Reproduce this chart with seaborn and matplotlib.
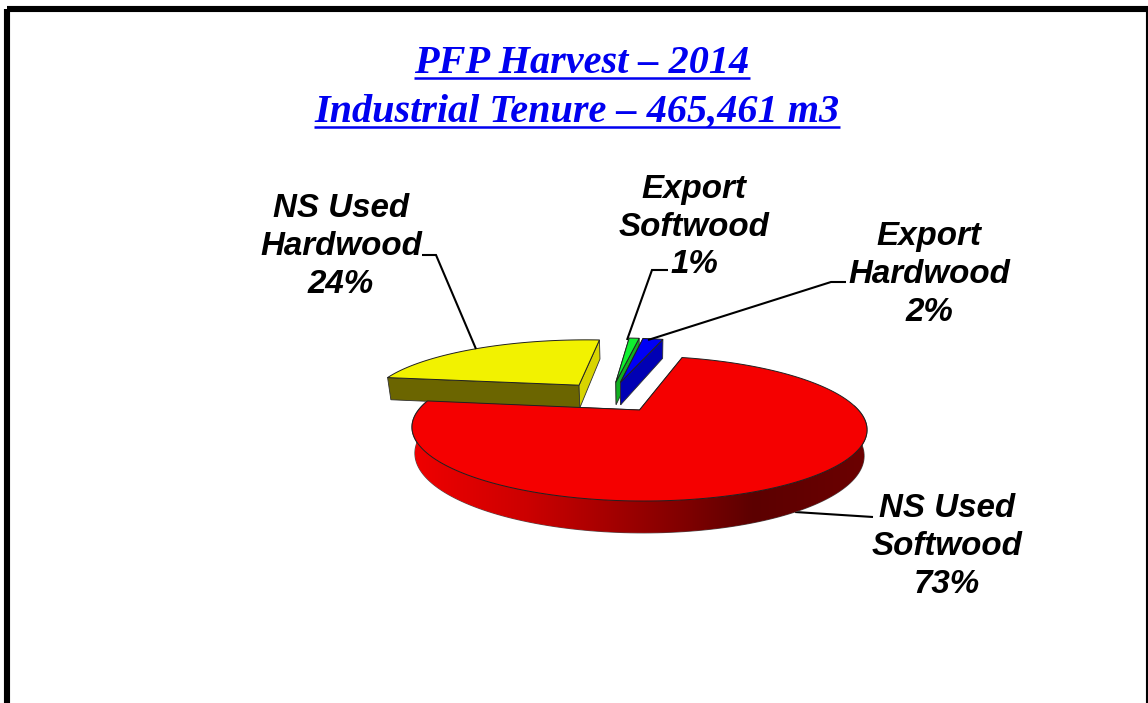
import numpy as np
import matplotlib
matplotlib.use("Agg")
import matplotlib.pyplot as plt
from matplotlib.patches import Polygon, Rectangle
import seaborn as sns

# chart data
categories = ["NS Used\nSoftwood", "NS Used\nHardwood", "Export\nSoftwood", "Export\nHardwood"]
shares = [73, 24, 1, 2]
title_lines = ["PFP Harvest \u2013 2014", "Industrial Tenure \u2013 465,461 m3"]

# styles, one entry per slice
top_colors = ["#f50000", "#f2f200", "#10f030", "#0000f5"]
low_side_colors = ["#a00000", "#d8d400", "#10b020", "#0000b4"]
high_side_colors = ["#a00000", "#6b6500", "#10b020", "#000090"]
wall_stops = ["#f00000", "#cc0000", "#960000", "#5c0000", "#6c0000"]
label_pos = [(947, 546.5), (341, 246.5), (694, 227), (929, 274.5)]
leaders = [[(873, 517), (795, 512)],
           [(422, 255), (436, 255), (476, 349)],
           [(668, 270), (652, 270), (627, 340)],
           [(846, 282), (831, 282), (648, 340)]]

# projection of the tilted pie, pixels
X0, Y0 = 639.5, 410
C, K, P, D = 220, 67.8, 0.255, 24.6

sns.set_theme(style="white")
plt.rcParams["font.family"] = ["Liberation Sans", "DejaVu Sans"]

fig = plt.figure(figsize=(11.48, 7.03), dpi=100)
ax = fig.add_axes([0, 0, 1, 1])

wedges, _ = ax.pie(shares, startangle=76, counterclock=False, explode=[0.25] * 4, radius=1)
origin = np.array(wedges[0].center)
slices = [(np.array(w.center), w.theta1, w.theta2) for w in wedges]
for w in wedges:
    w.remove()


def project(u, v, z=0):
    u = u - origin[0]
    v = v - origin[1]
    w = 1 + P * v
    s = 1 - 0.013 * z
    x = X0 + s * C * u / w
    # slight clockwise lean of the whole pie
    y = Y0 - s * K * v / w + z * D / w + 0.006 * (x - X0)
    return np.column_stack([x, y])


def arc(center, t1, t2, n=200):
    t = np.radians(np.linspace(t1, t2, n))
    return center[0] + np.cos(t), center[1] + np.sin(t)


def face(center, theta, color):
    # flat cut side of a slice
    ends = np.array([center, center + [np.cos(np.radians(theta)), np.sin(np.radians(theta))]])
    pts = np.vstack([project(ends[:, 0], ends[:, 1]), project(ends[:, 0], ends[:, 1], 1)[::-1]])
    ax.add_patch(Polygon(pts, closed=True, fc=color, ec="#303030", lw=0.6))


wall_cmap = sns.blend_palette(wall_stops, as_cmap=True)

for i, (center, t1, t2) in enumerate(slices):
    face(center, t2, high_side_colors[i])
    face(center, t1, low_side_colors[i])

    u, v = arc(center, t1, t2)
    upper = project(u, v)
    lower = project(u, v, 1)
    front = np.sin(np.radians(np.linspace(t1, t2, len(u)))) < 0.1
    if i == 0:
        # outer rim, darker to the right
        rim = Polygon(np.vstack([upper[front], lower[front][::-1]]), closed=True,
                      fc="none", ec="#505050", lw=0.8)
        ax.add_patch(rim)
        img = ax.imshow(np.linspace(0, 1, 256).reshape(1, -1), cmap=wall_cmap, aspect="auto",
                        extent=(412, 869, 540, 420), interpolation="bilinear", zorder=1)
        img.set_clip_path(rim)

    top = np.vstack([project(*center.reshape(2, 1)), upper])
    ax.add_patch(Polygon(top, closed=True, fc=top_colors[i], ec="#202020", lw=0.7, zorder=1 + i * 0.1 + 0.05))

ax.set_aspect("auto")
ax.set_xlim(0, 1148)
ax.set_ylim(703, 0)
ax.axis("off")

# leader of the big slice runs behind its rim
for i, pts in enumerate(leaders):
    pts = np.array(pts)
    ax.plot(pts[:, 0], pts[:, 1], color="black", lw=1.5, zorder=0.5 if i == 0 else 3,
            solid_capstyle="butt", solid_joinstyle="miter")

for name, share, pos in zip(categories, shares, label_pos):
    ax.text(pos[0], pos[1], f"{name}\n{share}%", ha="center", va="center", ma="center",
            fontsize=23.9, fontweight="bold", fontstyle="italic", color="black", linespacing=1.29, zorder=4)

# title with hand drawn underline
title_x = [582, 577]
title_y = [73, 122]
fig.canvas.draw()
renderer = fig.canvas.get_renderer()
for line, x, y in zip(title_lines, title_x, title_y):
    t = ax.text(x, y, line, ha="center", va="baseline", fontsize=29, fontweight="bold",
                fontstyle="italic", family="Liberation Serif", color="#0000f0", zorder=4)
    box = t.get_window_extent(renderer)
    ax.plot([box.x0, box.x1], [y + 4.5, y + 4.5], color="#0000f0", lw=1.8, solid_capstyle="butt", zorder=4)

# slide border, open at the bottom
ax.add_patch(Rectangle((7, 9), 1142, 710, fc="none", ec="black", lw=4.4, joinstyle="miter", zorder=5))

fig.savefig("out.png", dpi=100, facecolor="white")
